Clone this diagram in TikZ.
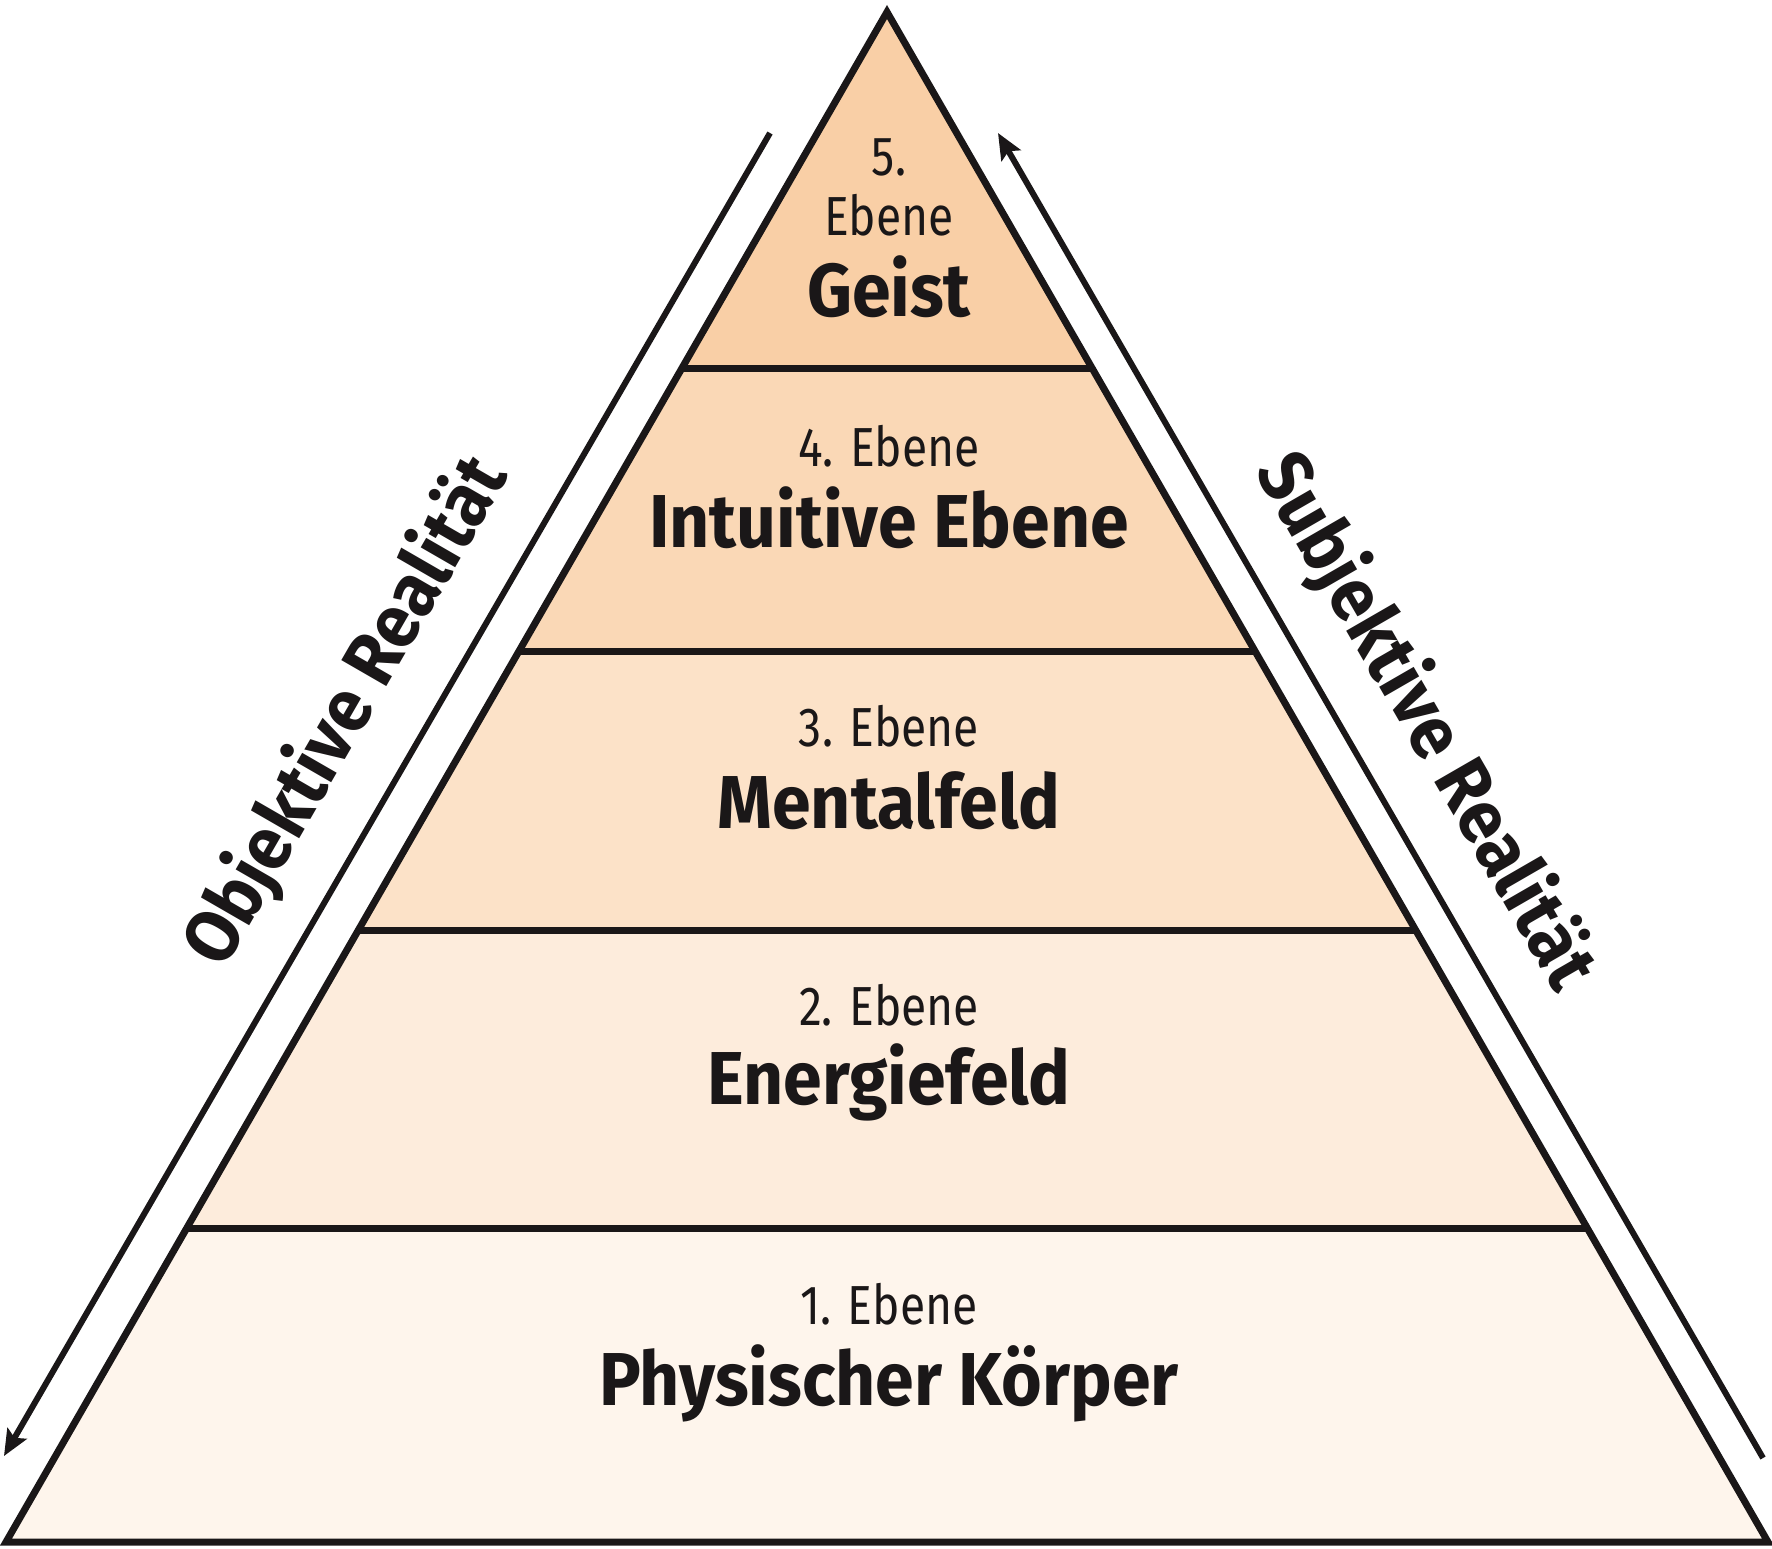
\documentclass[tikz,border=0pt]{standalone}
\usepackage{fontspec}
\setmainfont{Fira Sans}[FakeStretch=0.84]
\newfontfamily\boldlab{Fira Sans}[FakeStretch=0.93]
\usetikzlibrary{arrows.meta}
\definecolor{inkc}{HTML}{1A1718}
\definecolor{lvA}{HTML}{F9CFA6}
\definecolor{lvB}{HTML}{FAD8B6}
\definecolor{lvC}{HTML}{FCE2C8}
\definecolor{lvD}{HTML}{FDECDC}
\definecolor{lvE}{HTML}{FEF5EC}
\tikzset{
  edge/.style={draw=inkc, line width=7pt, line join=miter},
  small/.style={inkc, font=\fontsize{55}{60}\selectfont, anchor=base, inner sep=0pt},
  big/.style={inkc, font=\fontsize{75}{80}\selectfont\boldlab\bfseries, anchor=base, inner sep=0pt},
  side/.style={inkc, font=\fontsize{75}{80}\selectfont\boldlab\bfseries, inner sep=0pt},
  arr/.style={draw=inkc, line width=6pt, -{Stealth[length=26pt,width=22pt,inset=5pt]}}
}
\begin{document}
\begin{tikzpicture}[x=1pt,y=-1pt]
\useasboundingbox (0,0) rectangle (1772,1548);
% apex and base
\coordinate (T) at (887,12);
\coordinate (BL) at (6,1542);
\coordinate (BR) at (1768,1542);
% level boundary points (half width = 0.5758*(y-12))
\coordinate (L1) at ({887-0.5758*(368-12)},368);
\coordinate (R1) at ({887+0.5758*(368-12)},368);
\coordinate (L2) at ({887-0.5758*(651-12)},651);
\coordinate (R2) at ({887+0.5758*(651-12)},651);
\coordinate (L3) at ({887-0.5758*(930-12)},930);
\coordinate (R3) at ({887+0.5758*(930-12)},930);
\coordinate (L4) at ({887-0.5758*(1228-12)},1228);
\coordinate (R4) at ({887+0.5758*(1228-12)},1228);
% fills
\fill[lvA] (T) -- (R1) -- (L1) -- cycle;
\fill[lvB] (L1) -- (R1) -- (R2) -- (L2) -- cycle;
\fill[lvC] (L2) -- (R2) -- (R3) -- (L3) -- cycle;
\fill[lvD] (L3) -- (R3) -- (R4) -- (L4) -- cycle;
\fill[lvE] (L4) -- (R4) -- (BR) -- (BL) -- cycle;
% dividing lines
\draw[edge] (L1) -- (R1);
\draw[edge] (L2) -- (R2);
\draw[edge] (L3) -- (R3);
\draw[edge] (L4) -- (R4);
% outline
\draw[edge] (T) -- (BR) -- (BL) -- cycle;
% texts
\node[small] (n5a) at (889,175) {5.};
\node[small] (n5b) at (889,235) {Ebene};
\node[big] (n5c) at (889,316) {Geist};
\node[small] (n4a) at (889,466) {4. Ebene};
\node[big] (n4b) at (889,547) {Intuitive Ebene};
\node[small] (n3a) at (889,746) {3. Ebene};
\node[big] (n3b) at (889,828) {Mentalfeld};
\node[small] (n2a) at (889,1025) {2. Ebene};
\node[big] (n2b) at (889,1104) {Energiefeld};
\node[small] (n1a) at (889,1324) {1. Ebene};
\node[big] (n1b) at (889,1405) {Physischer Körper};
% side labels
\node[side, rotate=60] (obj) at (347,712) {Objektive Realität};
\node[side, rotate=-60] (subj) at (1425,722) {Subjektive Realität};
% arrows
\coordinate (la) at (770,133);
\coordinate (lb) at (4,1456);
\coordinate (ra) at (1763,1458);
\coordinate (rb) at (998,133);
\draw[arr] (la) -- (lb);
\draw[arr] (ra) -- (rb);
\end{tikzpicture}
\end{document}
